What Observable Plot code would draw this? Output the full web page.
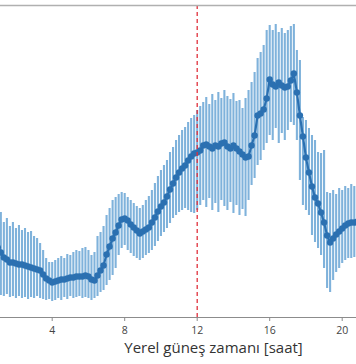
<!DOCTYPE html>
<html>
<head>
<meta charset="utf-8">
<script src="https://cdn.jsdelivr.net/npm/d3@7"></script>
<script src="https://cdn.jsdelivr.net/npm/@observablehq/plot@0.6"></script>
<style>
  html, body { margin: 0; padding: 0; background: #fff; }
  #chart { width: 356px; height: 364px; overflow: hidden; }
</style>
</head>
<body>
<div id="chart"></div>
<script>
// Local solar time (hours)
const saat = [
  1.000, 1.167, 1.333, 1.500, 1.667, 1.833, 2.000, 2.167, 2.333, 2.500,
  2.667, 2.833, 3.000, 3.167, 3.333, 3.500, 3.667, 3.833, 4.000, 4.167,
  4.333, 4.500, 4.667, 4.833, 5.000, 5.167, 5.333, 5.500, 5.667, 5.833,
  6.000, 6.167, 6.333, 6.500, 6.667, 6.833, 7.000, 7.167, 7.333, 7.500,
  7.667, 7.833, 8.000, 8.167, 8.333, 8.500, 8.667, 8.833, 9.000, 9.167,
  9.333, 9.500, 9.667, 9.833, 10.000, 10.167, 10.333, 10.500, 10.667, 10.833,
  11.000, 11.167, 11.333, 11.500, 11.667, 11.833, 12.000, 12.167, 12.333, 12.500,
  12.667, 12.833, 13.000, 13.167, 13.333, 13.500, 13.667, 13.833, 14.000, 14.167,
  14.333, 14.500, 14.667, 14.833, 15.000, 15.167, 15.333, 15.500, 15.667, 15.833,
  16.000, 16.167, 16.333, 16.500, 16.667, 16.833, 17.000, 17.167, 17.333, 17.500,
  17.667, 17.833, 18.000, 18.167, 18.333, 18.500, 18.667, 18.833, 19.000, 19.167,
  19.333, 19.500, 19.667, 19.833, 20.000, 20.167, 20.333, 20.500, 20.667, 20.833,
  21.000
];
// Mean value
const ortalama = [
  6.9, 6.4, 5.9, 5.7, 5.4, 5.4, 5.3, 5.2, 5.2, 5.1,
  5.0, 4.9, 4.8, 4.7, 4.6, 4.2, 3.8, 3.6, 3.4, 3.5,
  3.6, 3.7, 3.7, 3.8, 3.9, 3.9, 4.0, 4.0, 4.0, 4.1,
  4.0, 3.7, 3.6, 4.1, 4.6, 5.1, 6.2, 7.0, 7.8, 8.4,
  9.1, 9.7, 9.8, 9.6, 9.2, 8.9, 8.6, 8.3, 8.5, 8.7,
  8.9, 9.4, 9.9, 10.5, 11.0, 11.4, 12.0, 12.7, 13.3, 13.9,
  14.4, 14.8, 15.1, 15.6, 16.0, 16.3, 16.4, 16.6, 17.1, 17.2,
  17.0, 16.8, 17.1, 17.0, 17.3, 17.4, 17.0, 16.8, 17.1, 16.8,
  16.5, 16.2, 15.9, 16.0, 17.1, 18.1, 20.1, 20.3, 20.7, 21.8,
  23.7, 23.2, 23.0, 23.4, 23.1, 22.9, 23.0, 23.6, 24.3, 22.4,
  20.1, 18.0, 15.9, 14.4, 13.0, 11.9, 11.3, 10.4, 9.4, 8.1,
  7.4, 7.8, 8.2, 8.5, 8.8, 9.1, 9.3, 9.4, 9.4, 9.5,
  9.6
];
// Upper end of error bar
const ust = [
  10.6, 10.4, 9.4, 9.8, 9.0, 9.4, 8.8, 9.1, 8.6, 8.8,
  8.4, 8.5, 8.0, 7.8, 7.3, 6.6, 5.8, 5.4, 5.4, 5.6,
  5.8, 6.0, 5.8, 6.2, 6.1, 6.4, 6.6, 6.5, 6.8, 6.9,
  6.6, 6.1, 6.4, 8.0, 8.4, 9.0, 10.1, 10.8, 11.6, 11.9,
  12.2, 12.4, 12.3, 11.9, 11.6, 11.3, 11.0, 10.8, 11.1, 11.6,
  12.0, 12.6, 13.3, 14.0, 14.6, 15.1, 15.6, 16.4, 16.9, 17.6,
  18.1, 18.6, 18.9, 19.4, 19.8, 20.1, 20.6, 21.0, 21.4, 21.9,
  21.2, 22.2, 21.6, 22.4, 21.8, 22.6, 22.0, 21.7, 22.3, 21.5,
  21.6, 20.8, 21.8, 22.6, 23.4, 24.4, 25.8, 26.4, 27.1, 28.6,
  29.1, 28.6, 29.2, 28.4, 28.8, 28.3, 28.6, 29.0, 29.2, 26.6,
  25.6, 19.9, 19.6, 18.8, 18.1, 17.6, 16.4, 16.3, 16.6, 12.4,
  12.3, 12.6, 12.2, 12.8, 12.6, 13.0, 12.8, 13.2, 13.0, 13.1,
  13.1
];
// Lower end of error bar
const alt = [
  2.3, 2.1, 2.0, 2.2, 1.9, 2.0, 1.8, 2.0, 1.8, 1.9,
  1.7, 1.9, 1.8, 2.0, 1.8, 1.7, 1.6, 1.7, 1.5, 1.6,
  1.8, 1.6, 1.9, 1.7, 2.0, 1.8, 1.9, 2.0, 1.8, 1.9,
  1.8, 1.6, 1.8, 2.0, 2.4, 2.6, 3.1, 3.6, 4.1, 4.8,
  6.1, 6.8, 7.1, 6.6, 6.3, 6.0, 5.8, 5.6, 5.8, 6.1,
  6.3, 6.6, 7.0, 7.5, 8.0, 8.4, 8.8, 9.3, 9.8, 10.1,
  10.4, 10.6, 10.8, 10.6, 10.4, 10.3, 10.6, 11.1, 11.6, 10.9,
  11.8, 10.6, 11.3, 10.4, 11.6, 11.0, 10.6, 11.4, 10.3, 11.1,
  10.1, 10.7, 10.0, 11.6, 13.1, 13.8, 15.1, 15.6, 16.6, 17.3,
  18.1, 17.6, 18.8, 17.3, 18.3, 17.6, 18.6, 19.4, 19.1, 17.6,
  13.6, 11.1, 10.6, 10.1, 8.1, 7.4, 6.8, 6.1, 4.8, 2.8,
  2.4, 3.6, 4.4, 4.8, 5.3, 5.6, 5.8, 5.8, 5.9, 6.0,
  6.0
];
const xTicks = [4, 8, 12, 16, 20];
const ogle = [12];
const xLabel = "Yerel güneş zamanı [saat]";

const data = saat.map((s, i) => ({saat: s, ort: ortalama[i], ust: ust[i], alt: alt[i]}));

const chart = Plot.plot({
  width: 356,
  height: 364,
  marginLeft: 0,
  marginRight: 0,
  marginTop: 5,
  marginBottom: 47,
  style: {fontFamily: "'Open Sans', sans-serif", background: "#fff", overflow: "hidden"},
  x: {domain: [1.148, 20.789], ticks: xTicks, label: null},
  y: {domain: [-0.1, 31.1], axis: null},
  marks: [
    Plot.ruleX(data, {x: "saat", y1: "alt", y2: "ust", stroke: "#7fb2db", strokeWidth: 2.1, clip: true}),
    Plot.line(data, {x: "saat", y: "ort", stroke: "#2b70b1", strokeWidth: 2.2, clip: true}),
    Plot.dot(data, {x: "saat", y: "ort", r: 3.2, fill: "#2b70b1", clip: true}),
    Plot.ruleX(ogle, {stroke: "#e0303c", strokeWidth: 1.3, strokeDasharray: "4,3"}),
    Plot.frame({anchor: "top", stroke: "#b0b0b0", strokeWidth: 1.5}),
    Plot.frame({anchor: "bottom", stroke: "#8c8c8c", strokeWidth: 1.2}),
    Plot.axisX({ticks: xTicks, tickSize: 4, tickPadding: 5, fontSize: 10.5, fill: "#444", stroke: "#8c8c8c", label: null}),
    Plot.text([xLabel], {frameAnchor: "bottom", dy: 35, dx: 35, fontSize: 15, fill: "#333", text: d => d})
  ]
});
document.getElementById("chart").appendChild(chart);
</script>
</body>
</html>
